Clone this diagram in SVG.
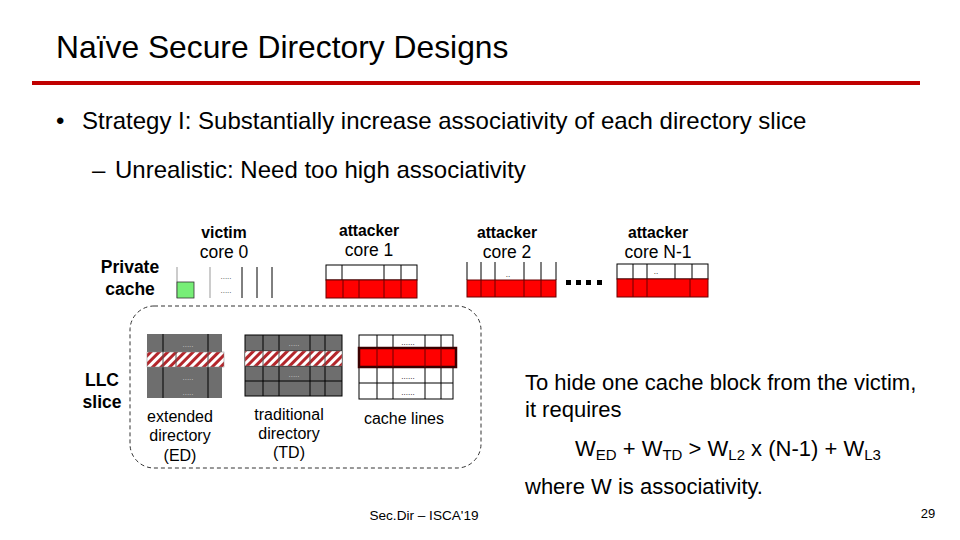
<svg xmlns="http://www.w3.org/2000/svg" width="960" height="540" viewBox="0 0 960 540">
<defs>
<pattern id="hatch" patternUnits="userSpaceOnUse" width="6" height="6" patternTransform="rotate(45)">
<rect width="6" height="6" fill="#ffffff"/>
<rect width="3" height="6" fill="#b3262b"/>
</pattern>
</defs>
<style>
text{font-family:"Liberation Sans",Arial,sans-serif;fill:#000}
.b{font-weight:bold}
.lbl{font-size:17.5px;text-anchor:middle}
.hd{font-size:15.7px;font-weight:bold;text-anchor:middle}
.cap{font-size:16px;text-anchor:middle}
.body{font-size:24px}
.rt{font-size:22px}
.dots{font-size:8px;text-anchor:middle}
.red{fill:#ff0000;stroke:#6b0000;stroke-width:1}
.wht{fill:#ffffff;stroke:#000;stroke-width:1}
.gray{fill:#6e6e6e;stroke:#000;stroke-width:1}
.ln{stroke:#000;stroke-width:1}
.hl{stroke:#999;stroke-width:1}
</style>
<rect width="960" height="540" fill="#ffffff"/>
<g id="title">
<text x="56" y="58" font-size="31.8">Naïve Secure Directory Designs</text>
<rect x="32" y="81" width="888" height="4" fill="#c00000"/>
</g>
<g id="bullets">
<text x="56" y="129" class="body">•</text>
<text x="82" y="129" class="body">Strategy I: Substantially increase associativity of each directory slice</text>
<text x="92" y="178" class="body">–</text>
<text x="115" y="178" class="body">Unrealistic: Need too high associativity</text>
</g>
<g id="labels-left">
<text x="130" y="273" class="lbl b">Private</text>
<text x="130" y="295" class="lbl b">cache</text>
<text x="102" y="386" class="lbl b">LLC</text>
<text x="102" y="408" class="lbl b">slice</text>
</g>
<g id="victim-core0">
<text x="224" y="238" class="hd">victim</text>
<text x="224" y="258" class="lbl">core 0</text>
<line x1="177" y1="267" x2="177" y2="298" class="hl"/>
<line x1="210" y1="267" x2="210" y2="298" class="hl"/>
<line x1="242" y1="267" x2="242" y2="298" class="ln"/>
<line x1="257" y1="267" x2="257" y2="298" class="ln"/>
<line x1="272" y1="267" x2="272" y2="298" class="ln"/>
<rect x="177" y="282" width="17" height="16" fill="#77ee77" stroke="#333" stroke-width="0.8"/>
<text x="226" y="279" class="dots" style="fill:#444">.....</text>
<text x="226" y="293" class="dots" style="fill:#444">.....</text>
</g>
<g id="attacker-core1">
<text x="369" y="236" class="hd">attacker</text>
<text x="369" y="256" class="lbl">core 1</text>
<rect x="326" y="265" width="91" height="15" class="wht"/>
<line x1="342" y1="265" x2="342" y2="280" class="ln"/>
<line x1="384" y1="265" x2="384" y2="280" class="ln"/>
<line x1="401" y1="265" x2="401" y2="280" class="ln"/>
<rect x="326" y="280" width="91" height="18" class="red"/>
<line x1="343" y1="280" x2="343" y2="298" stroke="#6b0000"/>
<line x1="359" y1="280" x2="359" y2="298" stroke="#6b0000"/>
<line x1="384" y1="280" x2="384" y2="298" stroke="#6b0000"/>
<line x1="401" y1="280" x2="401" y2="298" stroke="#6b0000"/>
</g>
<g id="attacker-core2">
<text x="507" y="238" class="hd">attacker</text>
<text x="507" y="258" class="lbl">core 2</text>
<line x1="467" y1="262" x2="467" y2="280" class="ln"/>
<line x1="481" y1="262" x2="481" y2="280" class="ln"/>
<line x1="495" y1="262" x2="495" y2="280" class="ln"/>
<line x1="524" y1="262" x2="524" y2="280" class="ln"/>
<line x1="541" y1="262" x2="541" y2="280" class="ln"/>
<line x1="556" y1="262" x2="556" y2="280" class="ln"/>
<text x="508" y="277" class="dots">..</text>
<rect x="467" y="280" width="89" height="17" class="red"/>
<line x1="481" y1="280" x2="481" y2="297" stroke="#6b0000"/>
<line x1="495" y1="280" x2="495" y2="297" stroke="#6b0000"/>
<line x1="524" y1="280" x2="524" y2="297" stroke="#6b0000"/>
<line x1="541" y1="280" x2="541" y2="297" stroke="#6b0000"/>
</g>
<g id="ellipsis">
<rect x="566" y="280" width="5" height="5" fill="#000"/>
<rect x="576" y="280" width="5" height="5" fill="#000"/>
<rect x="586" y="280" width="5" height="5" fill="#000"/>
<rect x="597" y="280" width="5" height="5" fill="#000"/>
</g>
<g id="attacker-coreN1">
<text x="658" y="238" class="hd">attacker</text>
<text x="658" y="258" class="lbl">core N-1</text>
<rect x="617" y="264" width="91" height="15" class="wht"/>
<line x1="633" y1="264" x2="633" y2="279" class="ln"/>
<line x1="647" y1="264" x2="647" y2="279" class="ln"/>
<line x1="675" y1="264" x2="675" y2="279" class="ln"/>
<line x1="692" y1="264" x2="692" y2="279" class="ln"/>
<text x="656" y="274" class="dots">..</text>
<rect x="617" y="279" width="91" height="18" class="red"/>
<line x1="633" y1="279" x2="633" y2="297" stroke="#6b0000"/>
<line x1="647" y1="279" x2="647" y2="297" stroke="#6b0000"/>
<line x1="690" y1="279" x2="690" y2="297" stroke="#6b0000"/>
</g>
<g id="llc-slice">
<rect x="130" y="306" width="351" height="162" rx="24" ry="24" fill="none" stroke="#333" stroke-width="1" stroke-dasharray="4,3"/>
</g>
<g id="extended-directory">
<rect x="147" y="334" width="75" height="64" fill="#6e6e6e"/>
<line x1="163" y1="334" x2="163" y2="398" class="ln"/>
<line x1="208" y1="334" x2="208" y2="398" class="ln"/>
<rect x="147" y="352" width="77" height="15" fill="url(#hatch)" stroke="#888" stroke-width="0.5"/>
<line x1="163" y1="352" x2="163" y2="367" stroke="#555"/>
<line x1="176" y1="352" x2="176" y2="367" stroke="#555"/>
<line x1="208" y1="352" x2="208" y2="367" stroke="#555"/>
<text x="188" y="347" class="dots" style="fill:#ccc">.....</text>
<text x="188" y="380" class="dots" style="fill:#ccc">.....</text>
<text x="188" y="395" class="dots" style="fill:#ccc">.....</text>
<text x="180" y="422" class="cap">extended</text>
<text x="180" y="441" class="cap">directory</text>
<text x="180" y="461" class="cap">(ED)</text>
</g>
<g id="traditional-directory">
<rect x="245" y="335" width="97" height="61" class="gray"/>
<line x1="245" y1="351" x2="342" y2="351" class="ln"/>
<line x1="245" y1="366" x2="342" y2="366" class="ln"/>
<line x1="245" y1="381" x2="342" y2="381" class="ln"/>
<line x1="263" y1="335" x2="263" y2="396" class="ln"/>
<line x1="279" y1="335" x2="279" y2="396" class="ln"/>
<line x1="310" y1="335" x2="310" y2="396" class="ln"/>
<line x1="325" y1="335" x2="325" y2="396" class="ln"/>
<rect x="245" y="351" width="97" height="15" fill="url(#hatch)" stroke="#888" stroke-width="0.5"/>
<line x1="263" y1="351" x2="263" y2="366" stroke="#555"/>
<line x1="279" y1="351" x2="279" y2="366" stroke="#555"/>
<line x1="310" y1="351" x2="310" y2="366" stroke="#555"/>
<line x1="325" y1="351" x2="325" y2="366" stroke="#555"/>
<text x="294" y="346" class="dots" style="fill:#ccc">.....</text>
<text x="294" y="377" class="dots" style="fill:#ccc">.....</text>
<text x="289" y="420" class="cap">traditional</text>
<text x="289" y="439" class="cap">directory</text>
<text x="289" y="458" class="cap">(TD)</text>
</g>
<g id="cache-lines">
<rect x="359" y="335" width="94" height="64" class="wht"/>
<line x1="359" y1="383" x2="453" y2="383" class="ln"/>
<line x1="377" y1="335" x2="377" y2="399" class="ln"/>
<line x1="393" y1="335" x2="393" y2="399" class="ln"/>
<line x1="425" y1="335" x2="425" y2="399" class="ln"/>
<line x1="441" y1="335" x2="441" y2="399" class="ln"/>
<rect x="359" y="348" width="97" height="19" fill="#ff0000" stroke="#3a0000" stroke-width="2.5"/>
<line x1="377" y1="348" x2="377" y2="367" stroke="#6b0000"/>
<line x1="393" y1="348" x2="393" y2="367" stroke="#6b0000"/>
<line x1="425" y1="348" x2="425" y2="367" stroke="#6b0000"/>
<line x1="441" y1="348" x2="441" y2="367" stroke="#6b0000"/>
<text x="408" y="345" class="dots">......</text>
<text x="408" y="379" class="dots">......</text>
<text x="408" y="395" class="dots">......</text>
<text x="404" y="424" class="cap">cache lines</text>
</g>
<g id="explanation">
<text x="525" y="390" class="rt">To hide one cache block from the victim,</text>
<text x="525" y="417" class="rt">it requires</text>
<text x="575" y="456" class="rt">W<tspan font-size="15" dy="4">ED</tspan><tspan dy="-4"> + W</tspan><tspan font-size="15" dy="4">TD</tspan><tspan dy="-4"> &gt; W</tspan><tspan font-size="15" dy="4">L2</tspan><tspan dy="-4"> x (N-1) + W</tspan><tspan font-size="15" dy="4">L3</tspan></text>
<text x="525" y="494" class="rt">where W is associativity.</text>
</g>
<g id="footer">
<text x="424" y="520" font-size="13.6" text-anchor="middle">Sec.Dir – ISCA'19</text>
<text x="928" y="518" font-size="13" text-anchor="middle">29</text>
</g>
</svg>
